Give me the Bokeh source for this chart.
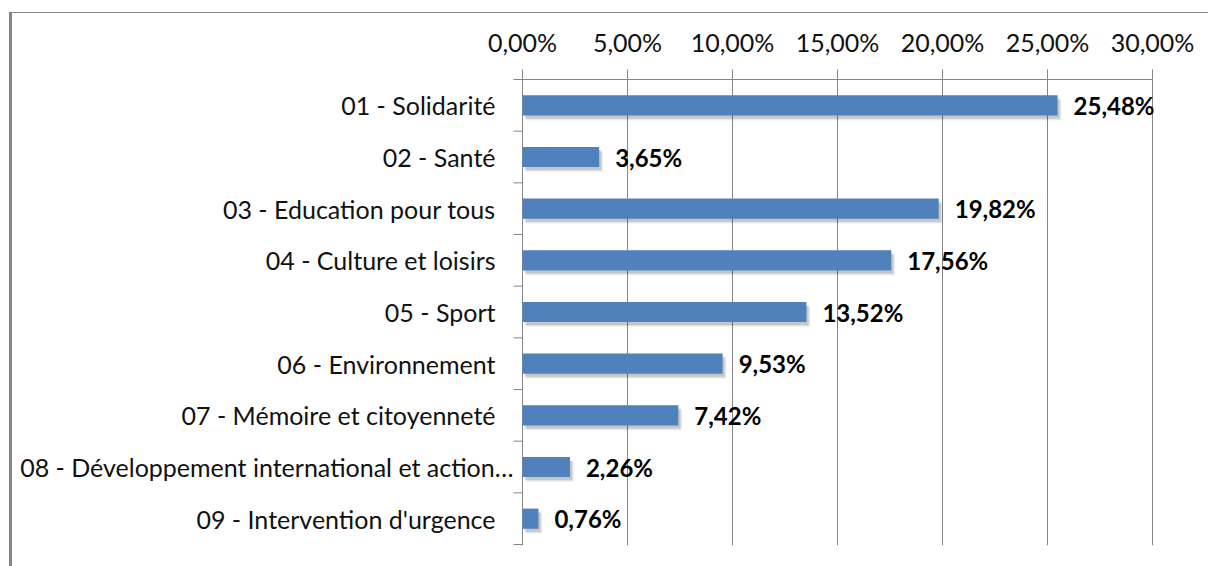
from bokeh.plotting import figure
from bokeh.models import ColumnDataSource, Range1d, FixedTicker, LabelSet
from bokeh.core.properties import value
from bokeh.embed import file_html
from bokeh.resources import INLINE

# ---------------- data ----------------
categories = [
    "01 - Solidarité",
    "02 - Santé",
    "03 - Education pour tous",
    "04 - Culture et loisirs",
    "05 - Sport",
    "06 - Environnement",
    "07 - Mémoire et citoyenneté",
    "08 - Développement international et action…",
    "09 - Intervention d'urgence",
]
values = [25.48, 3.65, 19.82, 17.56, 13.52, 9.53, 7.42, 2.26, 0.76]
x_ticks = [0, 5, 10, 15, 20, 25, 30]
x_tick_labels = ["0,00%", "5,00%", "10,00%", "15,00%", "20,00%", "25,00%", "30,00%"]

# ---------------- layout constants ----------------
FONT = "Lato"
GRID = "#868686"
BAR = "#4F81BD"
PX_PER_UNIT = 21.0            # pixels per 1 %
ZERO_PX = 510                 # canvas x of 0 %
FRAME_W = 1148
FRAME_H = 466
n = len(categories)
cat_px = 465.0 / n

x0 = -ZERO_PX / PX_PER_UNIT
x1 = x0 + FRAME_W / PX_PER_UNIT
y0 = -1.0 / cat_px
tick_start = -9.0 / PX_PER_UNIT

ypos = [n - 0.5 - i for i in range(n)]
val_labels = [("%.2f" % v).replace(".", ",") + "%" for v in values]
label_off = [-9 if c.endswith("…") else -27 for c in categories]

src = ColumnDataSource(dict(y=ypos, v=values, cat=categories, vl=val_labels,
                            zero=[0] * n, off=label_off))

p = figure(
    frame_width=FRAME_W, frame_height=FRAME_H,
    x_range=Range1d(x0, x1), y_range=Range1d(y0, n),
    x_axis_location="above",
    output_backend="svg", toolbar_location=None,
    min_border_left=0, min_border_right=48, min_border_top=66, min_border_bottom=21,
    background_fill_color="white", border_fill_color="white",
    margin=(12, 0, 0, 9),
    styles={"border-top": "1px solid #868686", "border-left": "3px solid #868686"},
)
p.outline_line_color = None
p.yaxis.visible = False
p.ygrid.visible = False

# x axis (top)
ax = p.xaxis[0]
ax.ticker = FixedTicker(ticks=x_ticks)
ax.bounds = (tick_start, x_ticks[-1])
ax.major_label_overrides = {t: l for t, l in zip(x_ticks, x_tick_labels)}
ax.axis_line_color = GRID
ax.major_tick_line_color = GRID
ax.major_tick_out = 10
ax.major_tick_in = 0
ax.minor_tick_line_color = None
ax.major_label_text_font = FONT
ax.major_label_text_font_size = "25px"
ax.major_label_text_color = "#111111"
ax.major_label_standoff = 13

p.xgrid.ticker = FixedTicker(ticks=x_ticks)
p.xgrid.bounds = (y0, n)
p.xgrid.grid_line_color = GRID
p.xgrid.grid_line_width = 1

# left category axis drawn manually
p.segment(x0=[0], y0=[y0], x1=[0], y1=[n], line_color=GRID, line_width=1)
bounds = list(range(n + 1))
p.segment(x0=[tick_start] * len(bounds), y0=bounds, x1=[0] * len(bounds), y1=bounds,
          line_color=GRID, line_width=1)

# bar shadows
bh = 0.39
for dx, dy, a in [(4, 5, 0.05), (3, 4, 0.08), (2, 3, 0.11)]:
    p.hbar(y=[yy - dy / cat_px for yy in ypos], left=dx / PX_PER_UNIT,
           right=[v + dx / PX_PER_UNIT for v in values], height=bh,
           fill_color="#000000", fill_alpha=a, line_color=None)
p.hbar(y="y", left=0, right="v", height=bh, source=src, fill_color=BAR, line_color=None)

# value labels
p.add_layout(LabelSet(x="v", y="y", text="vl", source=src, x_offset=16,
                      text_font=value(FONT), text_font_size="24px", text_font_style="bold",
                      text_color="#000000", text_baseline="middle", text_align="left"))
# category labels
p.add_layout(LabelSet(x="zero", y="y", text="cat", source=src, x_offset="off",
                      text_font=value(FONT), text_font_size="25px",
                      text_color="#111111", text_baseline="middle", text_align="right"))

open("out.html", "w").write(file_html(p, INLINE))
